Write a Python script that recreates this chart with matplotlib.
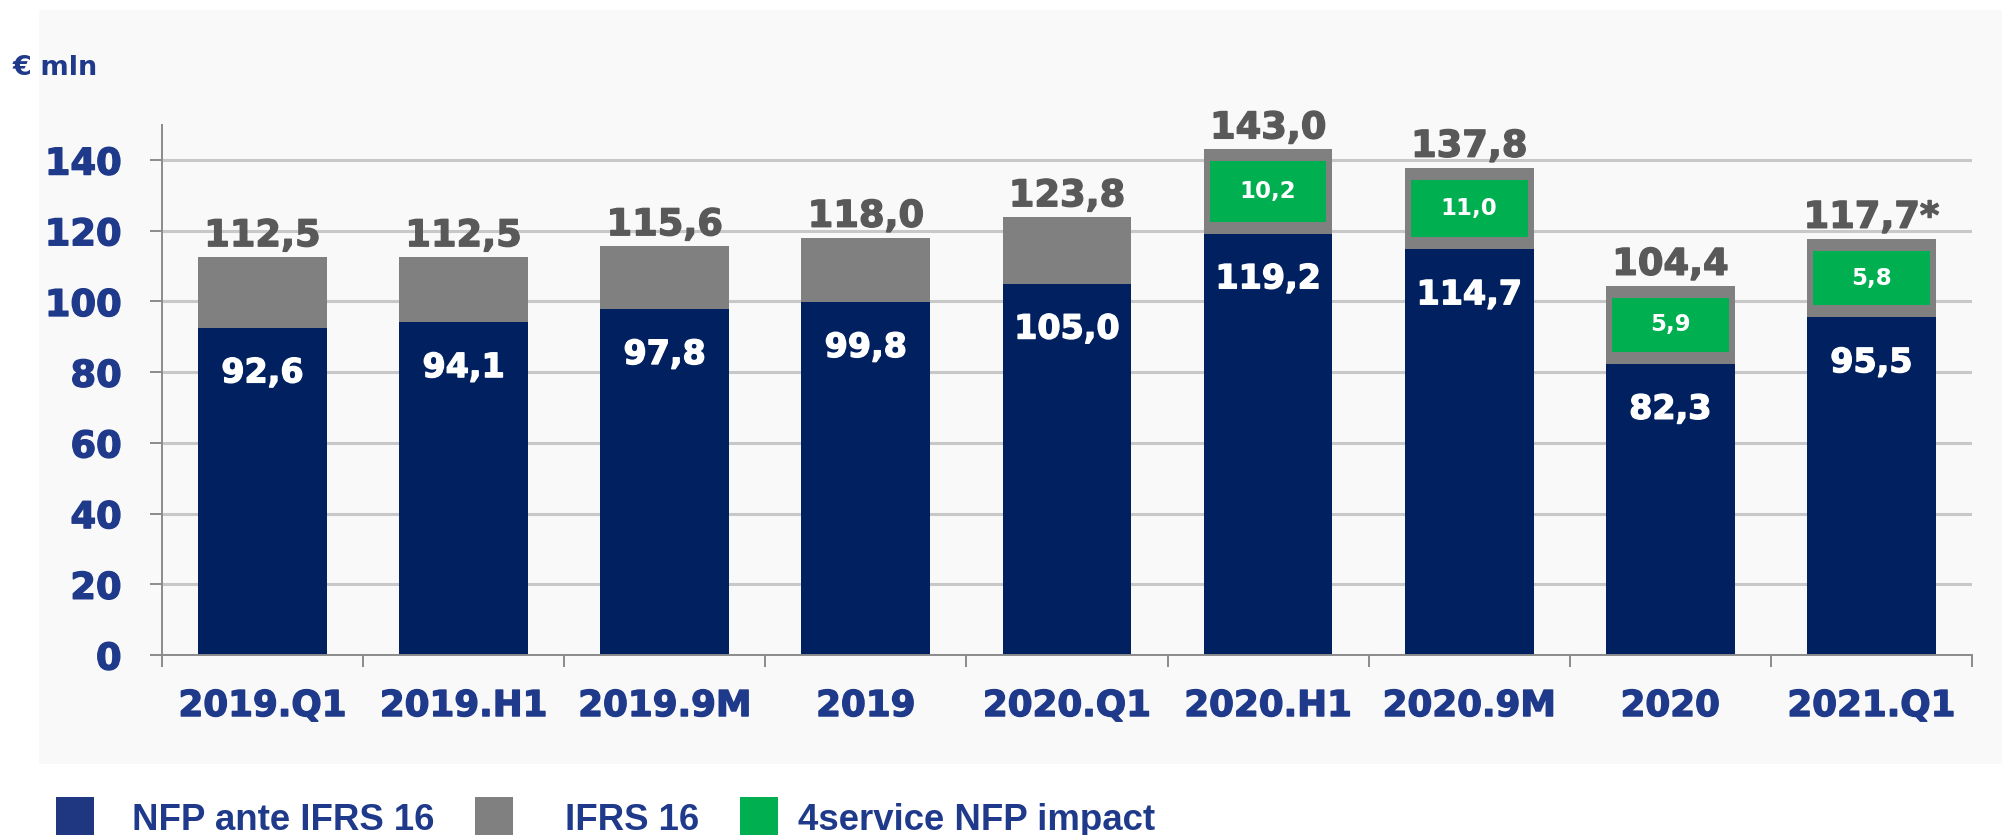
import numpy as np
import matplotlib
matplotlib.use("Agg")
import matplotlib.pyplot as plt
import matplotlib.patheffects as pe
from matplotlib.patches import Rectangle

# ---- data ----
categories = ["2019.Q1", "2019.H1", "2019.9M", "2019", "2020.Q1",
              "2020.H1", "2020.9M", "2020", "2021.Q1"]
nfp_ante = [92.6, 94.1, 97.8, 99.8, 105.0, 119.2, 114.7, 82.3, 95.5]
totals = [112.5, 112.5, 115.6, 118.0, 123.8, 143.0, 137.8, 104.4, 117.7]
total_labels = ["112,5", "112,5", "115,6", "118,0", "123,8", "143,0",
                "137,8", "104,4", "117,7*"]
service_impact = [None, None, None, None, None, 10.2, 11.0, 5.9, 5.8]
series_names = ["NFP ante IFRS 16", "IFRS 16", "4service NFP impact"]
y_ticks = [0, 20, 40, 60, 80, 100, 120, 140]
unit_label = "€ mln"

ifrs16 = [t - n for t, n in zip(totals, nfp_ante)]

def fmt(v):
    return f"{v:.1f}".replace(".", ",")

# ---- style ----
NAVY = "#002060"
NAVY_TXT = "#1f3a8a"
LEG_NAVY = "#1f3680"
GRAY = "#808080"
GREEN = "#00b050"
LBL_GRAY = "#595959"
AX_GRAY = "#8c8c8c"
BG = "#f9f9f9"

def heavy(color, lw=1.0):
    return [pe.withStroke(linewidth=lw, foreground=color)]

W, H = 2002, 835
fig = plt.figure(figsize=(W / 100, H / 100), dpi=100)
fig.patch.set_facecolor("white")

# light background panel
fig.patches.append(Rectangle((39 / W, 1 - 764 / H), 1 - 39 / W, (764 - 10) / H,
                             transform=fig.transFigure, facecolor=BG,
                             edgecolor="none", zorder=-10))

ax = fig.add_axes([161.9 / W, 1 - 655 / H, (1972 - 161.9) / W, (655 - 124.7) / H])
ax.set_facecolor("none")
ax.set_zorder(2)

x = np.arange(len(categories))
bw = 0.64
ax.bar(x, nfp_ante, width=bw, color=NAVY, zorder=3)
ax.bar(x, ifrs16, width=bw, bottom=nfp_ante, color=GRAY, zorder=3)

# 4service impact boxes (inset inside the IFRS 16 segment)
pad = 3.4
for i, v in enumerate(service_impact):
    if v is None:
        continue
    b = nfp_ante[i] + pad
    h = ifrs16[i] - 2 * pad
    ax.bar(x[i], h, width=0.58, bottom=b, color=GREEN, zorder=4)
    ax.text(x[i], b + h / 2, fmt(v), ha="center", va="center", color="white",
            fontsize=16.5, fontweight="bold", zorder=5)

# labels
for i in range(len(categories)):
    ax.text(x[i], nfp_ante[i] - 12.8, fmt(nfp_ante[i]), ha="center", va="center",
            color="white", fontsize=24, fontweight="bold", zorder=5,
            path_effects=heavy("white"))
    ax.annotate(total_labels[i], (x[i], totals[i]), xytext=(0, 8),
                textcoords="offset points", ha="center", va="baseline",
                color=LBL_GRAY, fontsize=26.5, fontweight="bold", zorder=5,
                annotation_clip=False, path_effects=heavy(LBL_GRAY))

ax.set_xlim(-0.5, len(categories) - 0.5)
ax.set_ylim(0, 150)
ax.set_yticks(y_ticks)
ax.set_yticklabels([str(t) for t in y_ticks])
ax.grid(axis="y", color="#c8c8c8", linewidth=2.2, zorder=1)
ax.set_axisbelow(True)

ax.set_xticks(x)
ax.set_xticklabels(categories)
ax.set_xticks(np.arange(-0.5, len(categories), 1), minor=True)
ax.tick_params(axis="x", which="major", length=0, pad=24.5, labelsize=25.7,
               labelcolor=NAVY_TXT)
ax.tick_params(axis="x", which="minor", length=8.6, width=1.4, color=AX_GRAY,
               direction="out")
ax.tick_params(axis="y", length=8.6, width=1.4, color=AX_GRAY, pad=20.5,
               labelsize=26.5, labelcolor=NAVY_TXT)
for lab in ax.get_xticklabels() + ax.get_yticklabels():
    lab.set_fontweight("bold")
    lab.set_path_effects(heavy(NAVY_TXT))

for s in ["top", "right"]:
    ax.spines[s].set_visible(False)
for s in ["left", "bottom"]:
    ax.spines[s].set_color(AX_GRAY)
    ax.spines[s].set_linewidth(1.4)
    ax.spines[s].set_zorder(6)

# unit label
fig.text(13 / W, 1 - 75 / H, unit_label, ha="left", va="baseline",
         color=NAVY_TXT, fontsize=19.5, fontweight="bold")

# legend (manual)
leg_colors = [LEG_NAVY, GRAY, GREEN]
sq_x = [56, 475, 740]
txt_x = [131.7, 565, 798.3]
for c, sx, tx, name in zip(leg_colors, sq_x, txt_x, series_names):
    fig.patches.append(Rectangle((sx / W, 0), 38 / W, 38 / H,
                                 transform=fig.transFigure, facecolor=c,
                                 edgecolor="none"))
    fig.text(tx / W, 1 - 830 / H, name, ha="left", va="baseline",
             color=NAVY_TXT, fontsize=26.4, fontweight="bold",
             family="Liberation Sans")

fig.savefig("out.png", dpi=100, facecolor=fig.get_facecolor())
